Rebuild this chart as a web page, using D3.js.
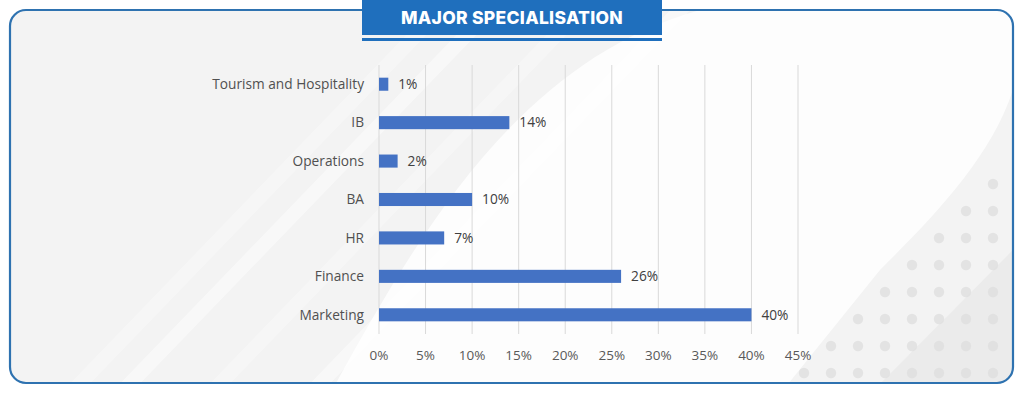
<!DOCTYPE html>
<html>
<head>
<meta charset="utf-8">
<script src="https://cdn.jsdelivr.net/npm/d3@7"></script>
<style>
  body { margin: 0; background: #fff; }
  svg { display: block; }
</style>
</head>
<body>
<div id="chart"></div>
<script>
(function() {
  var w = 1024,
      h = 394;

  var categories = ["Tourism and Hospitality", "IB", "Operations", "BA", "HR", "Finance", "Marketing"];
  var values = [1, 14, 2, 10, 7, 26, 40];
  var ticks = [0, 5, 10, 15, 20, 25, 30, 35, 40, 45];
  var title = "MAJOR SPECIALISATION";

  var svg = d3.select("#chart")
    .append("svg")
    .attr("width", w)
    .attr("height", h);

  var defs = svg.append("defs");
  var clip = defs.append("clipPath").attr("id", "card");
  clip.append("rect")
    .attr("x", 10).attr("y", 10)
    .attr("width", 1003).attr("height", 373)
    .attr("rx", 16);

  // card background
  var bg = svg.append("g").attr("clip-path", "url(#card)");
  bg.append("rect")
    .attr("x", 0).attr("y", 0).attr("width", w).attr("height", h)
    .attr("fill", "#f3f3f3");

  // soft diagonal stripes
  [60, 110, 200, 300].forEach(function(x0, i) {
    bg.append("path")
      .attr("d", "M" + x0 + "," + h + " L" + (x0 + 380) + ",0 L" + (x0 + 400) + ",0 L" + (x0 + 20) + "," + h + " Z")
      .attr("fill", "#ffffff")
      .attr("opacity", i % 2 ? 0.45 : 0.3);
  });

  // big white curved shape
  bg.append("path")
    .attr("d", "M330,394 C420,230 520,60 700,10 L1013,10 L1013,90 C990,160 930,220 880,270 L780,394 Z")
    .attr("fill", "#ffffff")
    .attr("opacity", 0.8);

  // darker wedge bottom right
  bg.append("path")
    .attr("d", "M870,394 L1013,250 L1013,394 Z")
    .attr("fill", "#e6e6e6")
    .attr("opacity", 0.6);

  // dotted pattern bottom right
  for (var r = 0; r < 10; r++) {
    for (var c = 0; c < 8; c++) {
      var cx = 993 - c * 27,
          cy = 373 - r * 27;
      if (cy < 120) continue;
      if (cx < 993 - (cy - 159) * 0.9) continue;
      bg.append("circle")
        .attr("cx", cx).attr("cy", cy).attr("r", 5.2)
        .attr("fill", "#dedede")
        .attr("opacity", 0.75);
    }
  }

  // card border
  svg.append("rect")
    .attr("x", 10).attr("y", 10)
    .attr("width", 1003).attr("height", 373)
    .attr("rx", 16)
    .attr("fill", "none")
    .attr("stroke", "#2e72b0")
    .attr("stroke-width", 2.2);

  // title banner
  svg.append("rect")
    .attr("x", 362).attr("y", 0)
    .attr("width", 300).attr("height", 35)
    .attr("fill", "#1f6fbd");
  svg.append("rect")
    .attr("x", 362).attr("y", 38)
    .attr("width", 300).attr("height", 3)
    .attr("fill", "#1f6fbd");
  svg.append("text")
    .attr("x", 512).attr("y", 24)
    .attr("text-anchor", "middle")
    .attr("fill", "#ffffff")
    .attr("font-family", "Inter, 'Open Sans', sans-serif")
    .attr("font-weight", 800)
    .attr("font-size", 17.5)
    .attr("letter-spacing", 0.3)
    .text(title);

  // chart
  var x = d3.scaleLinear().domain([0, 45]).range([379, 798]);
  var y = d3.scaleBand().domain(categories).range([65, 334]).paddingInner(0.66).paddingOuter(0.33);

  var g = svg.append("g")
    .attr("font-family", "'Open Sans', sans-serif")
    .attr("fill", "#404040");

  g.selectAll(".grid")
    .data(ticks)
    .enter().append("line")
    .attr("class", "grid")
    .attr("x1", function(d) { return x(d); })
    .attr("x2", function(d) { return x(d); })
    .attr("y1", 65)
    .attr("y2", 334)
    .attr("stroke", "#d9d9d9")
    .attr("stroke-width", 1);

  g.selectAll(".tick-label")
    .data(ticks)
    .enter().append("text")
    .attr("class", "tick-label")
    .attr("x", function(d) { return x(d); })
    .attr("y", 360)
    .attr("text-anchor", "middle")
    .attr("font-size", 13.5)
    .attr("fill", "#595959")
    .text(function(d) { return d + "%"; });

  g.selectAll(".cat")
    .data(categories)
    .enter().append("text")
    .attr("class", "cat")
    .attr("x", 364)
    .attr("y", function(d) { return y(d) + y.bandwidth() / 2; })
    .attr("dy", "0.35em")
    .attr("text-anchor", "end")
    .attr("font-size", 13.7)
    .attr("fill", "#505050")
    .text(function(d) { return d; });

  var data = categories.map(function(d, i) { return { name: d, value: values[i] }; });

  g.selectAll(".bar")
    .data(data)
    .enter().append("rect")
    .attr("class", "bar")
    .attr("x", x(0))
    .attr("y", function(d) { return y(d.name); })
    .attr("width", function(d) { return x(d.value) - x(0); })
    .attr("height", y.bandwidth())
    .attr("fill", "#4472c4");

  g.selectAll(".val")
    .data(data)
    .enter().append("text")
    .attr("class", "val")
    .attr("x", function(d) { return x(d.value) + 10; })
    .attr("y", function(d) { return y(d.name) + y.bandwidth() / 2; })
    .attr("dy", "0.35em")
    .attr("font-size", 13.7)
    .attr("fill", "#404040")
    .text(function(d) { return d.value + "%"; });
})();
</script>
</body>
</html>
